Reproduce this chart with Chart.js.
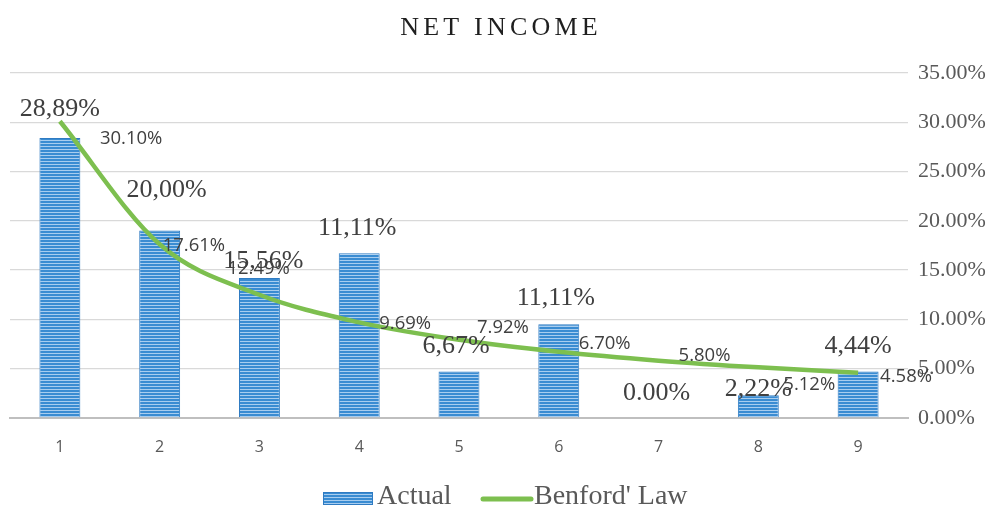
<!DOCTYPE html>
<html>
<head>
<meta charset="utf-8">
<script src="https://cdn.jsdelivr.net/npm/chart.js@4/dist/chart.umd.min.js"></script>
<style>
html,body{margin:0;padding:0;background:#fff;}
#wrap{width:1003px;height:507px;position:relative;}
</style>
</head>
<body>
<div id="wrap"><canvas id="c" width="1003" height="507"></canvas></div>
<script>
// ---- data ----
const categories = ['1','2','3','4','5','6','7','8','9'];
const actualValues = [28.4, 19.0, 14.2, 16.7, 4.7, 9.5, 0.0, 2.3, 4.7];
const actualLabels = ['28,89%','20,00%','15,56%','11,11%','6,67%','11,11%','0.00%','2,22%','4,44%'];
const benfordValues = [30.10, 17.61, 12.49, 9.69, 7.92, 6.70, 5.80, 5.12, 4.58];
const benfordLabels = ['30.10%','17.61%','12.49%','9.69%','7.92%','6.70%','5.80%','5.12%','4.58%'];
const yTicks = [0,5,10,15,20,25,30,35];
const titleText = 'NET INCOME';
const seriesNames = ['Actual', "Benford' Law"];

// ---- styles ----
function stripePattern(){
  const p = document.createElement('canvas');
  p.width = 4; p.height = 3;
  const g = p.getContext('2d');
  g.fillStyle = '#3a8cd2'; g.fillRect(0,0,4,3);
  g.fillStyle = '#a8cdef'; g.fillRect(0,2,4,1);
  return document.getElementById('c').getContext('2d').createPattern(p,'repeat');
}
const pat = stripePattern();
const green = '#7dbf4f';
const barBorder = '#2f7bc2';
const serif = '"Liberation Serif", "DejaVu Serif", serif';
const sans = '"Open Sans", "Liberation Sans", sans-serif';

// label placement offsets (styling only)
const barLabelDx = [0, 7, 4, -2, -3, -3, -2, 0, 0];
const barLabelDy = [-29, -40, -17, -25, -25, -26, -25, -6, -25];
const lineLabelDx = [40, 3, -32, 20, 18, 20, 20, 25, 22];
const lineLabelDy = [17, 1, -26, 1, -12, -8, -5, 17, 4];

const labelsPlugin = {
  id: 'labelsPlugin',
  afterDatasetsDraw(chart){
    const ctx = chart.ctx;
    ctx.save();
    const bm = chart.getDatasetMeta(0);
    ctx.font = '26px ' + serif;
    ctx.fillStyle = '#404040';
    ctx.textAlign = 'center';
    ctx.textBaseline = 'middle';
    bm.data.forEach((el,i)=>{
      ctx.fillText(actualLabels[i], el.x + barLabelDx[i], el.y + barLabelDy[i]);
    });
    const lm = chart.getDatasetMeta(1);
    ctx.font = '18.5px ' + sans;
    ctx.textAlign = 'left';
    lm.data.forEach((el,i)=>{
      ctx.fillText(benfordLabels[i], el.x + lineLabelDx[i], el.y + lineLabelDy[i]);
    });
    ctx.restore();
  },
  afterDraw(chart){
    const ctx = chart.ctx;
    ctx.save();
    // title
    ctx.font = '26px ' + serif;
    ctx.fillStyle = '#1f1f1f';
    ctx.textAlign = 'center';
    ctx.textBaseline = 'middle';
    try { ctx.letterSpacing = '4.2px'; } catch(e){}
    ctx.fillText(titleText, 501, 28);
    try { ctx.letterSpacing = '0px'; } catch(e){}
    // legend
    const ly = 498;
    ctx.fillStyle = pat;
    ctx.fillRect(323, ly - 6, 50, 13);
    ctx.strokeStyle = barBorder; ctx.lineWidth = 1;
    ctx.strokeRect(323.5, ly - 5.5, 49, 12);
    ctx.font = '28px ' + serif;
    ctx.fillStyle = '#595959';
    ctx.textAlign = 'left';
    ctx.textBaseline = 'middle';
    ctx.fillText(seriesNames[0], 377, ly - 1);
    ctx.strokeStyle = green; ctx.lineWidth = 5; ctx.lineCap = 'round';
    ctx.beginPath(); ctx.moveTo(483, ly + 1); ctx.lineTo(531, ly + 1); ctx.stroke();
    ctx.fillText(seriesNames[1], 534, ly - 1);
    ctx.restore();
  }
};

new Chart(document.getElementById('c'), {
  data: {
    labels: categories,
    datasets: [
      {
        type: 'bar',
        label: seriesNames[0],
        data: actualValues,
        backgroundColor: pat,
        borderColor: barBorder,
        borderWidth: 1,
        barPercentage: 0.41,
        categoryPercentage: 1.0,
        order: 2
      },
      {
        type: 'line',
        label: seriesNames[1],
        data: benfordValues,
        borderColor: green,
        backgroundColor: green,
        borderWidth: 4.5,
        pointRadius: 0,
        cubicInterpolationMode: 'monotone',
        order: 1
      }
    ]
  },
  options: {
    responsive: false,
    animation: false,
    layout: { padding: { top: 73, left: 10, right: 0, bottom: 30 } },
    plugins: {
      title: { display: false },
      tooltip: { enabled: false },
      legend: { display: false }
    },
    scales: {
      x: {
        grid: { display: false, drawTicks: false },
        border: { display: true, color: '#bfbfbf', width: 2 },
        ticks: { color: '#595959', font: { family: sans, size: 16 }, padding: 20 }
      },
      y: {
        position: 'right',
        min: 0, max: 35,
        afterBuildTicks(axis){ axis.ticks = yTicks.map(v=>({value:v})); },
        afterFit(axis){ axis.width = 95; },
        grid: { color: '#d9d9d9', lineWidth: 1.3, drawTicks: false },
        border: { display: false },
        ticks: {
          color: '#595959',
          font: { family: serif, size: 22 },
          padding: 10,
          callback: v => v.toFixed(2) + '%'
        }
      }
    }
  },
  plugins: [labelsPlugin]
});
</script>
</body>
</html>
